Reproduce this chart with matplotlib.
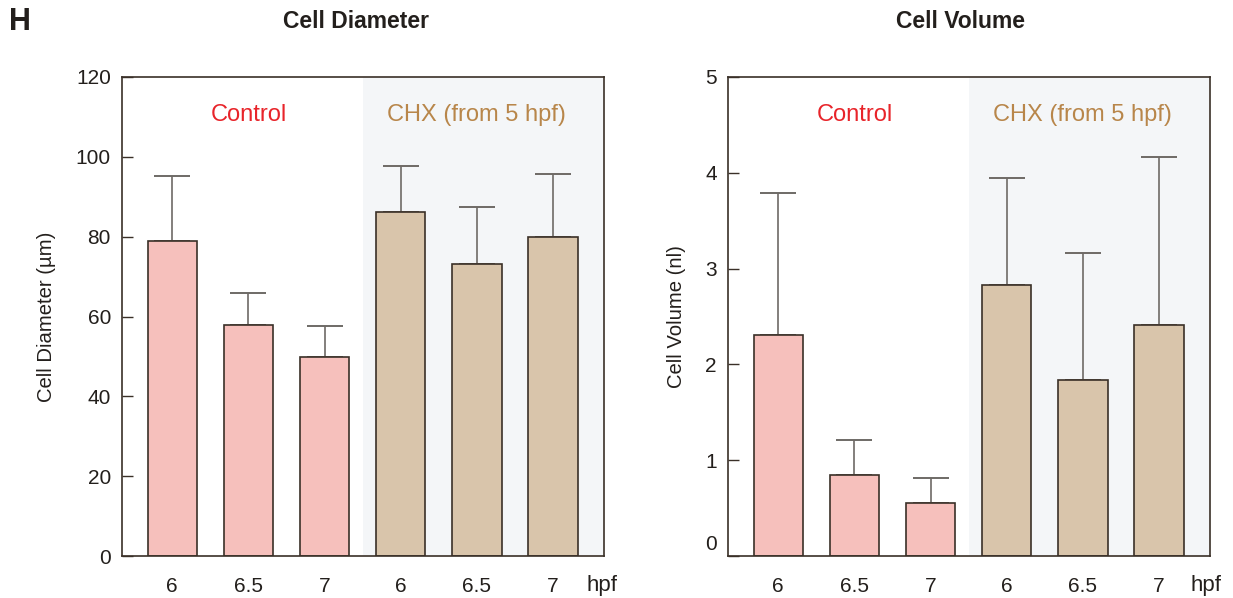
import matplotlib
matplotlib.use("Agg")
import matplotlib.pyplot as plt
import matplotlib.transforms as mtransforms

plt.rcParams['font.family'] = ['Liberation Sans', 'DejaVu Sans']

groups = ["Control", "CHX (from 5 hpf)"]
tick_labels = ["6", "6.5", "7", "6", "6.5", "7"]

diam_mean = [78.9, 57.9, 49.9, 86.2, 73.2, 79.9]
diam_err = [16.3, 8.0, 7.7, 11.5, 14.3, 15.8]

vol_mean = [2.31, 0.85, 0.55, 2.83, 1.84, 2.41]
vol_err = [1.48, 0.36, 0.26, 1.12, 1.32, 1.75]

pink = "#f6c0bc"
tan = "#d9c5ab"
bar_colors = [pink, pink, pink, tan, tan, tan]
edge = "#3a3028"
err_col = "#6e6a66"
shade = "#f4f6f8"
red = "#e8242a"
brown = "#b8864a"
textc = "#231f1c"

fig = plt.figure(figsize=(12.33, 5.98), dpi=100)
W, H = 1233, 598

def make_axes(x0, x1, y0=77, y1=556):
    return fig.add_axes([x0 / W, (H - y1) / H, (x1 - x0) / W, (y1 - y0) / H])

ax1 = make_axes(122, 604)
ax2 = make_axes(728, 1210)

def draw(ax, means, errs, ymax, yticks, ylabel, label_y, hpf_x):
    x = list(range(len(means)))
    ax.set_xlim(-0.66, 5.67)
    ax.set_ylim(0, ymax)
    ax.axvspan(2.5, 5.67, color=shade, zorder=0, lw=0)
    ax.bar(x, means, width=0.65, color=bar_colors, edgecolor=edge,
           linewidth=1.2, zorder=2)
    ax.errorbar(x, means, yerr=[[0] * len(errs), errs], fmt='none',
                ecolor=err_col, elinewidth=1.2, capsize=13, capthick=1.4,
                zorder=1)
    ax.set_xticks(x)
    ax.set_xticklabels(tick_labels, fontsize=15, color=textc)
    ax.tick_params(axis='x', length=0, pad=15)
    ax.set_yticks(yticks)
    ax.tick_params(axis='y', direction='in', length=8, width=1.0,
                   labelsize=15, labelcolor=textc, color=edge, pad=8)
    for s in ax.spines.values():
        s.set_color(edge)
        s.set_linewidth(1.2)
    ax.set_ylabel(ylabel, fontsize=14.6, color=textc, labelpad=14)
    ax.text(1, label_y, groups[0], color=red, fontsize=17,
            ha='center', va='center')
    ax.text(4, label_y, groups[1], color=brown, fontsize=17,
            ha='center', va='center')
    fig.text(hpf_x / W, 1 - 586 / H, "hpf", fontsize=16, color=textc,
             ha='left', va='center')

draw(ax1, diam_mean, diam_err, 120, [0, 20, 40, 60, 80, 100, 120],
     "Cell Diameter (µm)", 110.5, 586)
draw(ax2, vol_mean, vol_err, 5, [0, 1, 2, 3, 4, 5], "Cell Volume (nl)", 4.6, 1190)

# shift the "0" label of the volume axis upward as in the reference
lbl0 = ax2.get_yticklabels()[0]
lbl0.set_transform(lbl0.get_transform() +
                   mtransforms.ScaledTranslation(0, 13 / 100, fig.dpi_scale_trans))

fig.text(356 / W, 1 - 22 / H, "Cell Diameter", fontsize=16.5, fontweight='bold',
         color=textc, ha='center', va='center')
fig.text(961 / W, 1 - 22 / H, "Cell Volume", fontsize=16.5, fontweight='bold',
         color=textc, ha='center', va='center')
fig.text(9 / W, 1 - 22 / H, "H", fontsize=22, fontweight='bold',
         color=textc, ha='left', va='center')

fig.savefig("out.png", dpi=100)
